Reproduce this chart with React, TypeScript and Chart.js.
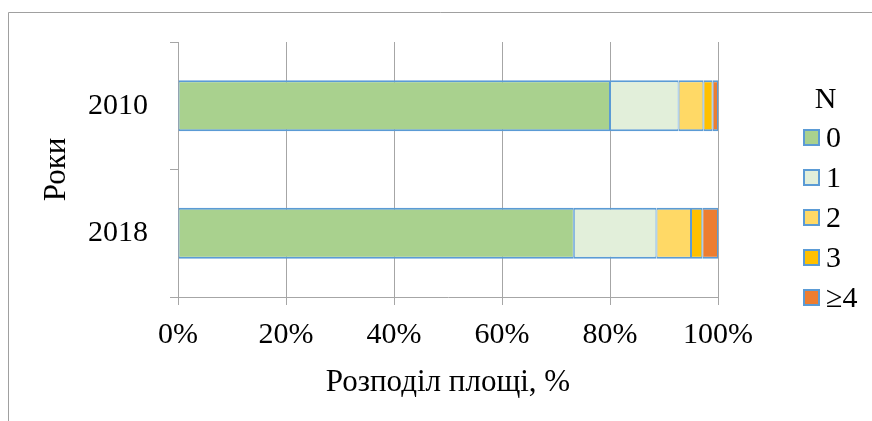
import React, { useEffect, useRef } from "react";
import { Chart, registerables } from "chart.js";

Chart.register(...registerables);

const categories = ["2010", "2018"];
const seriesLabels = ["0", "1", "2", "3", "≥4"];
const series0 = [80.0, 73.3];
const series1 = [12.7, 15.3];
const series2 = [4.6, 6.4];
const series3 = [1.7, 2.1];
const series4 = [1.0, 2.9];
const xTicks = [0, 20, 40, 60, 80, 100];
const colors = ["#a9d18e", "#e2efda", "#ffd966", "#ffc000", "#ed7d31"];
const FONT = '"Liberation Serif", "Times New Roman", serif';
const GRID = "#a6a6a6";

const framePlugin = {
  id: "frame",
  beforeDraw(chart: any) {
    const ctx = chart.ctx;
    ctx.save();
    ctx.fillStyle = "#ffffff";
    ctx.fillRect(0, 0, chart.width, chart.height);
    ctx.strokeStyle = "#a0a0a0";
    ctx.lineWidth = 1;
    ctx.beginPath();
    ctx.moveTo(8.5, chart.height);
    ctx.lineTo(8.5, 12.5);
    ctx.lineTo(chart.width, 12.5);
    ctx.stroke();
    ctx.restore();
  },
};

const legendPlugin = {
  id: "customLegend",
  afterDraw(chart: any) {
    const ctx = chart.ctx;
    ctx.save();
    ctx.fillStyle = "#000";
    ctx.font = `30px ${FONT}`;
    ctx.textBaseline = "alphabetic";
    ctx.textAlign = "center";
    ctx.fillText("N", 825.5, 108);
    ctx.textAlign = "left";
    chart.data.datasets.forEach((ds: any, i: number) => {
      const cy = 137 + i * 40;
      ctx.fillStyle = ds.backgroundColor;
      ctx.fillRect(803, cy - 8, 17, 17);
      ctx.strokeStyle = ds.borderColor;
      ctx.lineWidth = 2;
      ctx.strokeRect(804, cy - 7, 15, 15);
      ctx.fillStyle = "#000";
      ctx.fillText(ds.label, 826, cy + 10);
    });
    ctx.restore();
  },
};

export default function App() {
  const ref = useRef<HTMLCanvasElement>(null);
  useEffect(() => {
    document.body.style.margin = "0";
    const values = [series0, series1, series2, series3, series4];
    const chart = new Chart(ref.current as HTMLCanvasElement, {
      type: "bar",
      data: {
        labels: categories,
        datasets: values.map((v, i) => ({
          label: seriesLabels[i],
          data: v,
          backgroundColor: colors[i],
          borderColor: "#5b9bd5",
          borderWidth: { top: 2, bottom: 2, left: 1, right: 1 },
          borderSkipped: false,
          categoryPercentage: 1,
          barPercentage: 0.4,
        })),
      },
      options: {
        indexAxis: "y",
        animation: false,
        responsive: false,
        devicePixelRatio: 1,
        layout: { padding: { left: 0, top: 42, right: 154, bottom: 0 } },
        plugins: { legend: { display: false }, tooltip: { enabled: false } },
        scales: {
          x: {
            type: "linear",
            stacked: true,
            min: 0,
            max: 100,
            afterBuildTicks: (scale: any) => {
              scale.ticks = xTicks.map((v) => ({ value: v }));
            },
            afterFit: (scale: any) => {
              scale.height = 124;
            },
            ticks: {
              font: { family: FONT, size: 30 },
              color: "#000",
              padding: 12,
              maxRotation: 0,
              callback: (v: any) => v + "%",
            },
            grid: { color: GRID, lineWidth: 1, tickLength: 8 },
            border: { color: GRID, width: 1 },
            title: {
              display: true,
              text: "Розподіл площі, %",
              font: { family: FONT, size: 31 },
              color: "#000",
              padding: { top: 0, bottom: 20 },
            },
          },
          y: {
            type: "category",
            stacked: true,
            offset: true,
            afterFit: (scale: any) => {
              scale.width = 178;
            },
            ticks: {
              font: { family: FONT, size: 30 },
              color: "#000",
              padding: 22,
            },
            grid: {
              offset: true,
              drawOnChartArea: false,
              color: GRID,
              tickLength: 8,
            },
            border: { color: GRID, width: 1 },
            title: {
              display: true,
              text: "Роки",
              font: { family: FONT, size: 31 },
              color: "#000",
              padding: { top: 38, bottom: 0 },
            },
          },
        },
      },
      plugins: [framePlugin, legendPlugin],
    });
    return () => chart.destroy();
  }, []);
  return (
    <div style={{ position: "absolute", left: 0, top: 0, width: 872, height: 421 }}>
      <canvas ref={ref} width={872} height={421} style={{ width: 872, height: 421 }} />
    </div>
  );
}
